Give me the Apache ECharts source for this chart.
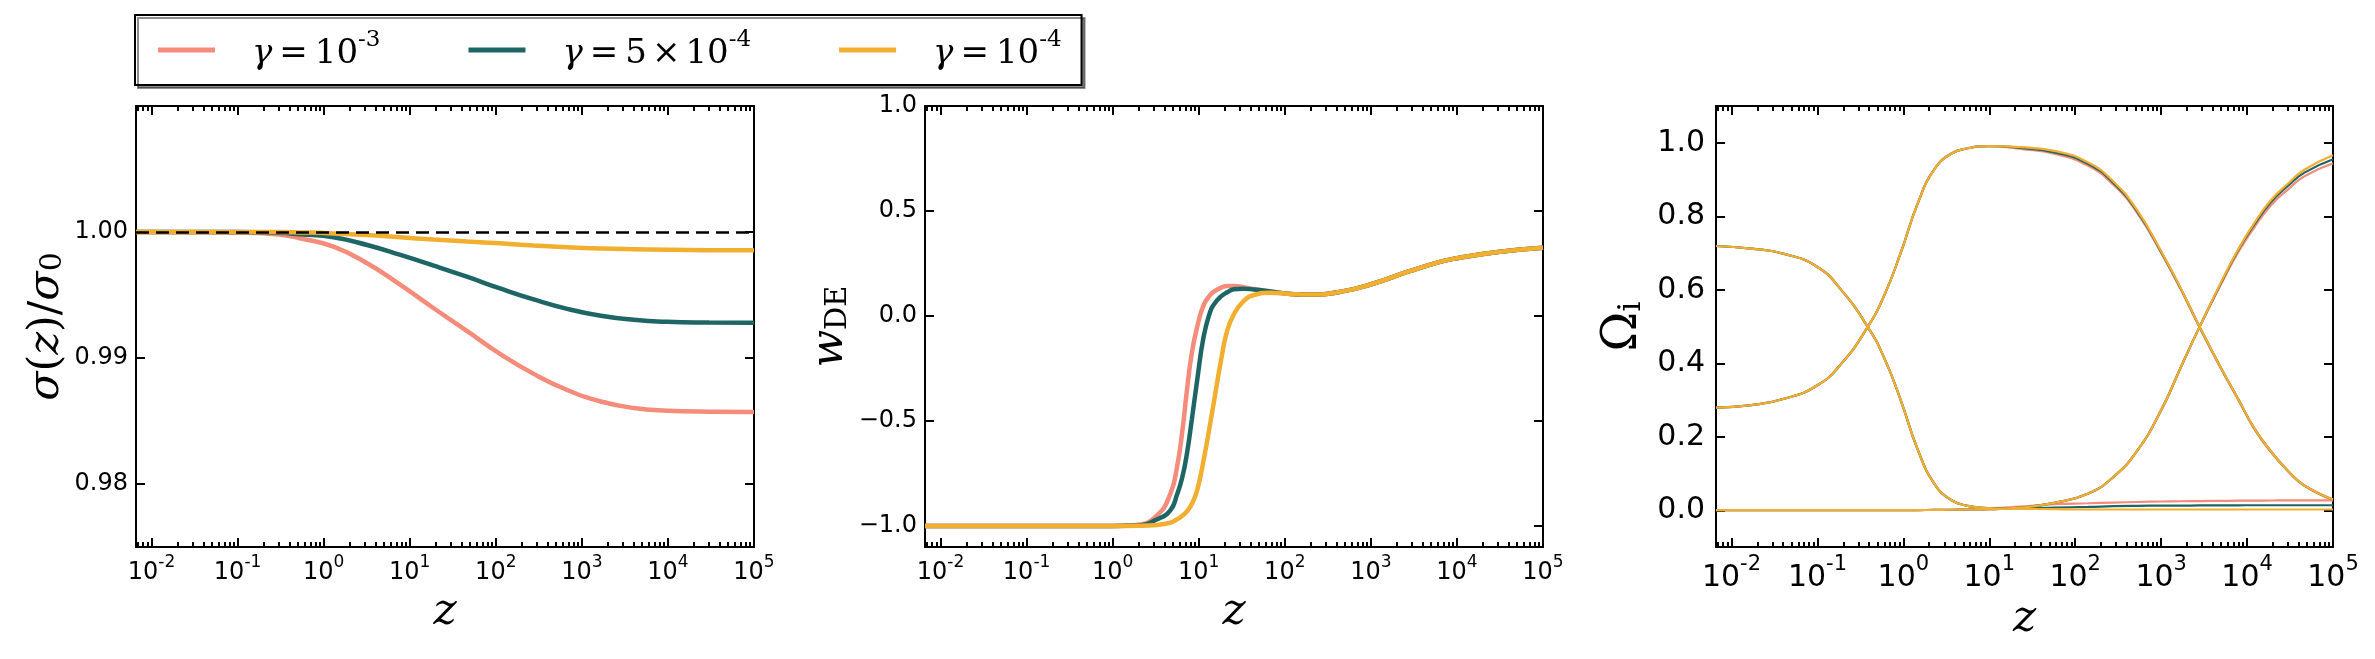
<!DOCTYPE html>
<html>
<head>
<meta charset="utf-8">
<title>sigma / w_DE / Omega_i vs z</title>
<script src="https://cdn.jsdelivr.net/npm/echarts@6.0.0/dist/echarts.min.js"></script>
<style>
  html, body { margin: 0; padding: 0; background: #fff; }
  #main { width: 2375px; height: 659px; }
</style>
</head>
<body>
<div id="main"></div>
<script>
// ---- values ----
var zMin = 0.0066, zMax = 100000;

// left panel: sigma(z)/sigma_0
var zSigma  = [0.0066, 0.03, 0.1, 0.3, 0.53, 1.3, 3.2, 7.8, 19, 47, 112, 275, 676, 1660, 4000, 9800, 30000, 100000];
var sigmaA  = [1.0, 0.99999, 0.99995, 0.9998, 0.9995, 0.99884, 0.99752, 0.9958, 0.99395, 0.99211, 0.99032, 0.98874, 0.98746, 0.98655, 0.98603, 0.98582, 0.98574, 0.98572];
var sigmaB  = [1.0, 1.0, 1.0, 0.99994, 0.99982, 0.99958, 0.99897, 0.99818, 0.99733, 0.99643, 0.99552, 0.99465, 0.9939, 0.99335, 0.99303, 0.99287, 0.99281, 0.99279];
var sigmaC  = [1.0, 1.0, 1.0, 1.0, 0.99997, 0.99989, 0.99976, 0.99958, 0.9994, 0.99924, 0.9991, 0.99893, 0.99879, 0.99869, 0.99863, 0.99859, 0.99856, 0.99855];

// middle panel: w_DE
var zW = [0.0066, 0.1, 1, 1.9, 3.3, 4.7, 5.6, 6.4, 7.3, 8.3, 9.6, 11.4, 13.6, 15, 18, 21.4, 25.6, 33, 44, 68, 117, 183, 450, 1100, 2700, 6500, 10000, 30000, 100000];
var wA = [-1, -1, -1, -0.995, -0.948, -0.844, -0.717, -0.559, -0.352, -0.178, -0.051, 0.052, 0.1, 0.116, 0.134, 0.143, 0.143, 0.137, 0.128, 0.116, 0.105, 0.102, 0.116, 0.156, 0.211, 0.259, 0.275, 0.305, 0.325];
var wB = [-1, -1, -1, -0.998, -0.968, -0.924, -0.85, -0.773, -0.654, -0.495, -0.305, -0.098, 0.021, 0.055, 0.092, 0.113, 0.127, 0.13, 0.126, 0.117, 0.105, 0.102, 0.116, 0.156, 0.211, 0.259, 0.275, 0.305, 0.325];
var wC = [-1, -1, -1, -0.999, -0.995, -0.984, -0.968, -0.952, -0.93, -0.895, -0.829, -0.686, -0.511, -0.41, -0.22, -0.07, 0.008, 0.07, 0.1, 0.111, 0.105, 0.102, 0.116, 0.156, 0.211, 0.259, 0.275, 0.305, 0.325];

// right panel: Omega_i (dark energy, matter, radiation)
var zOm = [0.0066, 0.017, 0.042, 0.1, 0.19, 0.385, 0.6, 0.94, 1.47, 2.3, 3.6, 5.6, 10, 23, 57, 140, 280, 530, 1000, 1700, 2800, 4900, 7800, 12000, 19000, 30000, 46000, 100000];
var deA = [0.719, 0.712, 0.697, 0.662, 0.599, 0.499, 0.414, 0.297, 0.165, 0.072, 0.028, 0.012, 0.006, 0.01, 0.0165, 0.019, 0.021, 0.0225, 0.0238, 0.0245, 0.025, 0.0255, 0.026, 0.026, 0.0265, 0.027, 0.027, 0.027];
var deB = [0.719, 0.712, 0.697, 0.662, 0.599, 0.499, 0.414, 0.297, 0.165, 0.072, 0.028, 0.012, 0.006, 0.0055, 0.0075, 0.009, 0.011, 0.012, 0.0125, 0.0127, 0.013, 0.0133, 0.0135, 0.0136, 0.0136, 0.0136, 0.0136, 0.0136];
var deC = [0.719, 0.712, 0.697, 0.662, 0.599, 0.499, 0.414, 0.297, 0.165, 0.072, 0.028, 0.012, 0.006, 0.004, 0.003, 0.002, 0.002, 0.002, 0.002, 0.002, 0.002, 0.002, 0.002, 0.002, 0.002, 0.002, 0.002, 0.002];
var mA  = [0.279, 0.286, 0.304, 0.34, 0.399, 0.499, 0.585, 0.703, 0.835, 0.928, 0.97, 0.985, 0.991, 0.983, 0.97, 0.938, 0.885, 0.808, 0.7, 0.6, 0.497, 0.388, 0.303, 0.223, 0.158, 0.106, 0.067, 0.028];
var mB  = [0.279, 0.286, 0.304, 0.34, 0.399, 0.499, 0.585, 0.703, 0.835, 0.928, 0.97, 0.985, 0.991, 0.986, 0.974, 0.943, 0.89, 0.812, 0.703, 0.602, 0.499, 0.39, 0.305, 0.225, 0.16, 0.107, 0.068, 0.029];
var mC  = [0.279, 0.286, 0.304, 0.34, 0.399, 0.499, 0.585, 0.703, 0.835, 0.928, 0.97, 0.985, 0.991, 0.988, 0.978, 0.947, 0.894, 0.815, 0.705, 0.603, 0.499, 0.39, 0.305, 0.225, 0.16, 0.107, 0.068, 0.029];
var radA = [0.0001, 0.0001, 0.0001, 0.0001, 0.0002, 0.0002, 0.0003, 0.0004, 0.0006, 0.0009, 0.0013, 0.002, 0.003, 0.007, 0.02, 0.045, 0.091, 0.163, 0.272, 0.39, 0.499, 0.612, 0.7, 0.768, 0.83, 0.873, 0.908, 0.944];
var radB = [0.0001, 0.0001, 0.0001, 0.0001, 0.0002, 0.0002, 0.0003, 0.0004, 0.0006, 0.0009, 0.0013, 0.002, 0.003, 0.007, 0.02, 0.045, 0.091, 0.163, 0.272, 0.39, 0.499, 0.615, 0.706, 0.776, 0.839, 0.883, 0.918, 0.955];
var radC = [0.0001, 0.0001, 0.0001, 0.0001, 0.0002, 0.0002, 0.0003, 0.0004, 0.0006, 0.0009, 0.0013, 0.002, 0.003, 0.007, 0.02, 0.045, 0.091, 0.163, 0.272, 0.39, 0.499, 0.617, 0.708, 0.78, 0.844, 0.889, 0.926, 0.966];

// tick values
var ticksSigma = [0.98, 0.99, 1.0];
var ticksW = [-1, -0.5, 0, 0.5, 1];
var ticksOm = [0, 0.2, 0.4, 0.6, 0.8, 1.0];
var decades = [0.001, 0.01, 0.1, 1, 10, 100, 1000, 10000];

var names = ['γ = 10^-3', 'γ = 5×10^-4', 'γ = 10^-4'];
var colors = ['#F58B7B', '#1E6566', '#F2AE2E'];

var SANS = 'DejaVu Sans';
var SERIF = 'DejaVu Serif';

// minor tick positions 2..9 x 10^n, in log10 units (for the tick-only axes)
var minorLog = [];
decades.forEach(function (d) {
  for (var k = 2; k <= 9; k++) {
    var v = k * d;
    if (v > zMin && v < zMax) minorLog.push(Math.log10(v));
  }
});

function decadeLabel(v) {
  var e = Math.log10(v);
  var r = Math.round(e);
  if (Math.abs(e - r) > 1e-6) return '';
  return '{b|10}{s|' + r + '}';
}

function spine() { return { show: true, onZero: false, lineStyle: { color: '#000', width: 2 } }; }
function noSpine() { return { show: false, onZero: false }; }
function ticks(len, vals) {
  var t = { show: true, inside: true, length: len, lineStyle: { color: '#000', width: 2 } };
  if (vals) t.customValues = vals;
  return t;
}

function xAxes(g, fs) {
  var lo = Math.log10(zMin), hi = Math.log10(zMax);
  return [
    {
      type: 'log', logBase: 10, gridIndex: g, min: zMin, max: zMax, position: 'bottom',
      axisLine: spine(), splitLine: { show: false }, axisTick: ticks(9),
      axisLabel: {
        show: true, showMinLabel: false, margin: 7, formatter: decadeLabel,
        rich: {
          b: { fontSize: fs, fontFamily: SANS, color: '#000', lineHeight: Math.round(fs * 1.3), verticalAlign: 'bottom' },
          s: { fontSize: Math.round(fs * 0.7), fontFamily: SANS, color: '#000', lineHeight: Math.round(fs * 0.75), verticalAlign: 'top' }
        }
      },
      name: '{i|z}', nameLocation: 'middle', nameGap: fs > 26 ? 40 : 44,
      nameTextStyle: { rich: { i: { fontFamily: SERIF, fontStyle: 'italic', fontSize: 44, color: '#000' } } }
    },
    {
      type: 'value', gridIndex: g, min: lo, max: hi, position: 'bottom',
      axisLine: noSpine(), splitLine: { show: false }, axisLabel: { show: false }, axisTick: ticks(5, minorLog)
    },
    {
      type: 'log', logBase: 10, gridIndex: g, min: zMin, max: zMax, position: 'top',
      axisLine: spine(), splitLine: { show: false }, axisLabel: { show: false }, axisTick: ticks(9)
    },
    {
      type: 'value', gridIndex: g, min: lo, max: hi, position: 'top',
      axisLine: noSpine(), splitLine: { show: false }, axisLabel: { show: false }, axisTick: ticks(5, minorLog)
    }
  ];
}

function yAxes(g, min, max, tv, fmt, fs, name, nameGap, rich) {
  return [
    {
      type: 'value', gridIndex: g, min: min, max: max, position: 'left',
      axisLine: spine(), splitLine: { show: false }, axisTick: ticks(9, tv),
      axisLabel: { show: true, customValues: tv, formatter: fmt, fontSize: fs, fontFamily: SANS, color: '#000', margin: fs > 26 ? 11 : 8 },
      name: name, nameLocation: 'middle', nameRotate: 90, nameGap: nameGap,
      nameTextStyle: { rich: rich }
    },
    {
      type: 'value', gridIndex: g, min: min, max: max, position: 'right',
      axisLine: spine(), splitLine: { show: false }, axisLabel: { show: false }, axisTick: ticks(9, tv)
    }
  ];
}

function pairs(xs, ys) {
  return xs.map(function (x, i) { return [x, ys[i]]; });
}

function line(k, g, xs, ys, width) {
  return {
    name: names[k], type: 'line', xAxisIndex: g * 4, yAxisIndex: g * 2,
    data: pairs(xs, ys), showSymbol: false, symbol: 'none',
    smooth: 0.5,
    lineStyle: { color: colors[k], width: width }, itemStyle: { color: colors[k] },
    animation: false
  };
}

var mathI = { fontFamily: SERIF, fontStyle: 'italic', fontSize: 43, color: '#000', lineHeight: 48, verticalAlign: 'bottom' };
var mathR = { fontFamily: SERIF, fontSize: 43, color: '#000', lineHeight: 48, verticalAlign: 'bottom' };

var series = [];
// left
series.push(line(0, 0, zSigma, sigmaA, 4.5));
series.push(line(1, 0, zSigma, sigmaB, 4.5));
var sc = line(2, 0, zSigma, sigmaC, 4.5);
sc.markLine = {
  silent: true, symbol: 'none', label: { show: false },
  lineStyle: { color: '#000', width: 2.5, type: [13, 7] },
  data: [{ yAxis: 1 }]
};
series.push(sc);
// middle
series.push(line(0, 1, zW, wA, 4.5));
series.push(line(1, 1, zW, wB, 4.5));
series.push(line(2, 1, zW, wC, 4.5));
// right
[[deA, mA, radA], [deB, mB, radB], [deC, mC, radC]].forEach(function (set, k) {
  set.forEach(function (ys) { series.push(line(k, 2, zOm, ys, 2.2)); });
});

var legendText = {};
legendText[names[0]] = '{sp| }{g|γ}{e|=}{n|10}{s|-3}';
legendText[names[1]] = '{sp| }{g|γ}{e|=}{n|5}{x|×}{n|10}{s|-4}';
legendText[names[2]] = '{sp| }{g|γ}{e|=}{n|10}{s|-4}';

var option = {
  animation: false,
  backgroundColor: '#fff',
  textStyle: { fontFamily: SANS },
  legend: {
    data: names, left: 135, top: 15, orient: 'horizontal',
    padding: [14, 20, 14, 23], itemGap: 88, itemWidth: 57, itemHeight: 5, icon: 'rect',
    borderColor: '#000', borderWidth: 2, borderRadius: 0, backgroundColor: '#fff',
    shadowColor: 'rgba(0,0,0,0.45)', shadowOffsetX: 3, shadowOffsetY: 3, shadowBlur: 0,
    selectedMode: false,
    formatter: function (n) { return legendText[n]; },
    textStyle: {
      rich: {
        sp: { width: 32 },
        g: { fontFamily: SERIF, fontStyle: 'italic', fontSize: 34, color: '#000', lineHeight: 42, verticalAlign: 'bottom' },
        e: { fontFamily: SERIF, fontSize: 34, color: '#000', lineHeight: 42, verticalAlign: 'bottom', padding: [0, 7, 0, 7] },
        x: { fontFamily: SERIF, fontSize: 34, color: '#000', lineHeight: 42, verticalAlign: 'bottom', padding: [0, 5, 0, 5] },
        n: { fontFamily: SERIF, fontSize: 34, color: '#000', lineHeight: 42, verticalAlign: 'bottom' },
        s: { fontFamily: SERIF, fontSize: 23, color: '#000', lineHeight: 25, verticalAlign: 'top' }
      }
    }
  },
  grid: [
    { left: 136, top: 106, width: 618, height: 441 },
    { left: 925, top: 106, width: 618, height: 441 },
    { left: 1716, top: 106, width: 617, height: 441 }
  ],
  xAxis: [].concat(xAxes(0, 24), xAxes(1, 24), xAxes(2, 30)),
  yAxis: [].concat(
    yAxes(0, 0.975, 1.01, ticksSigma, function (v) { return v.toFixed(2); }, 24,
      '{i|σ}{r|(}{i|z}{r|)}{r|/}{i|σ}{b|0}', 68,
      { i: mathI, r: mathR, b: { fontFamily: SERIF, fontSize: 30, color: '#000', lineHeight: 36, verticalAlign: 'bottom' } }),
    yAxes(1, -1.1, 1.0, ticksW, function (v) { return (v < 0 ? '\u2212' : '') + Math.abs(v).toFixed(1); }, 24,
      '{i|w}{b|DE}', 72,
      { i: { fontFamily: SERIF, fontStyle: 'italic', fontSize: 44, color: '#000', lineHeight: 48, verticalAlign: 'bottom' },
        b: { fontFamily: SERIF, fontSize: 29, color: '#000', lineHeight: 34, verticalAlign: 'bottom' } }),
    yAxes(2, -0.1, 1.1, ticksOm, function (v) { return v.toFixed(1); }, 30,
      '{r|Ω}{b|i}', 68,
      { r: { fontFamily: SERIF, fontSize: 48, color: '#000', lineHeight: 52, verticalAlign: 'bottom' },
        b: { fontFamily: SERIF, fontSize: 32, color: '#000', lineHeight: 38, verticalAlign: 'bottom' } })
  ),
  series: series
};

var chart = echarts.init(document.getElementById('main'));
chart.setOption(option);
</script>
</body>
</html>
